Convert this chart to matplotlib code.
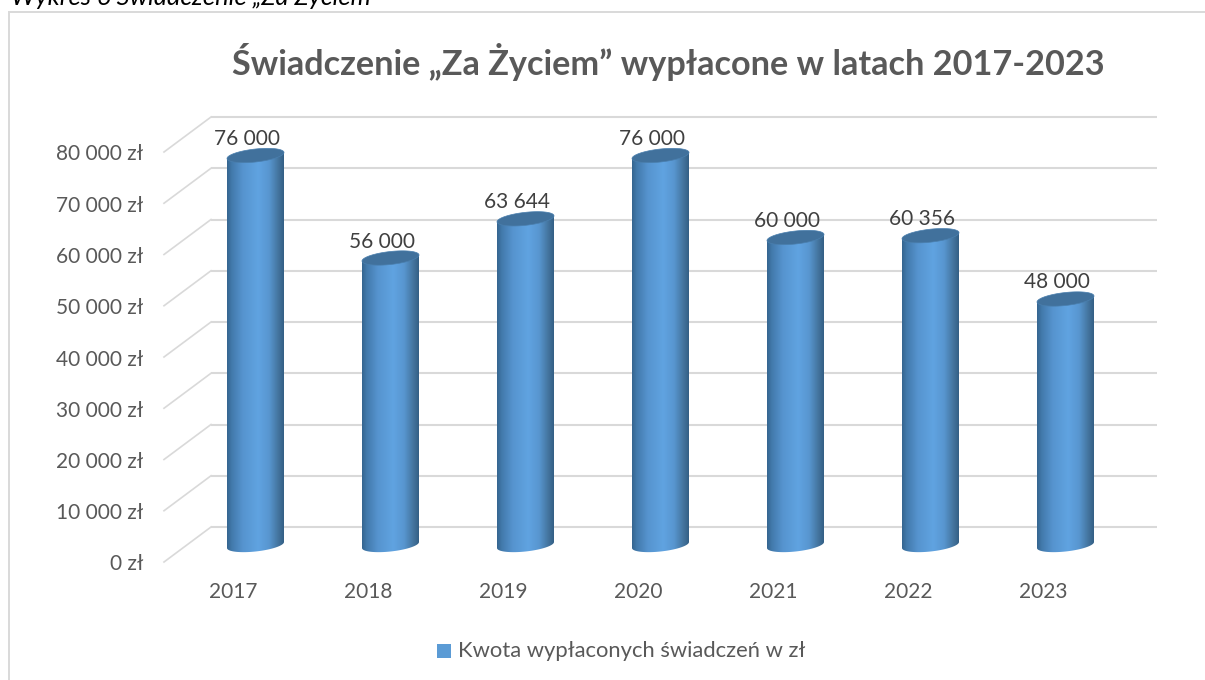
import numpy as np
import matplotlib
matplotlib.use("Agg")
import matplotlib.pyplot as plt
from matplotlib.colors import LinearSegmentedColormap
from matplotlib.patches import Polygon, Rectangle

years = ["2017", "2018", "2019", "2020", "2021", "2022", "2023"]
values = [76000, 56000, 63644, 76000, 60000, 60356, 48000]
value_labels = ["76 000", "56 000", "63 644", "76 000", "60 000", "60 356", "48 000"]
axis_ticks = [0, 10000, 20000, 30000, 40000, 50000, 60000, 70000, 80000]
axis_labels = ["0 zł", "10 000 zł", "20 000 zł", "30 000 zł", "40 000 zł",
               "50 000 zł", "60 000 zł", "70 000 zł", "80 000 zł"]
title = "Świadczenie „Za Życiem” wypłacone w latach 2017-2023"
caption = "Wykres 6 Świadczenie „Za Życiem”"
legend_label = "Kwota wypłaconych świadczeń w zł"

W, H = 1205, 680
plt.rcParams["font.family"] = ["Lato", "DejaVu Sans"]
fig = plt.figure(figsize=(W / 100, H / 100), dpi=100)
ax = fig.add_axes([0, 0, 1, 1])

# pixel scale of the data axes
PX_PER_CAT = 135.0
PX_PER_VAL = 51.25 / 10000
X0 = 255.5
Y0 = 527.0
xlim = ((0 - X0) / PX_PER_CAT, (W - X0) / PX_PER_CAT)
ylim = ((Y0 - H) / PX_PER_VAL, (Y0 - 0) / PX_PER_VAL)
ax.set_xlim(*xlim)
ax.set_ylim(*ylim)
ax.axis("off")
dx = lambda p: p / PX_PER_CAT
dy = lambda p: p / PX_PER_VAL
px = lambda p: dx(p - X0)
py = lambda p: dy(Y0 - p)

# frame: only the top and left edges fall inside the picture
ax.plot([px(1205), px(8.5), px(8.5)], [py(11.5), py(11.5), py(680)], color="#d9d9d9",
        lw=1.4, zorder=1, solid_joinstyle="miter")

# gridlines, back wall and depth slants
grid_c = "#d9d9d9"
right = px(1157)
back = px(211)
front = px(164)
depth = dy(-35)
for t, lab in zip(axis_ticks, axis_labels):
    ax.plot([back, right], [t, t], color=grid_c, lw=1.5, zorder=2, solid_capstyle="butt")
    ax.plot([front, back], [t + depth, t], color=grid_c, lw=1.2, zorder=2)
    ax.text(px(143.5), t + depth - dy(2.5), lab, ha="right", va="center", fontsize=15, color="#595959")

cmap = LinearSegmentedColormap.from_list("cyl", [
    (0.00, "#35658f"), (0.08, "#4279ab"), (0.28, "#5694cf"), (0.55, "#60a3e1"),
    (0.74, "#5896d0"), (0.90, "#44759f"), (1.00, "#335f85")])
grad = np.linspace(0, 1, 256).reshape(1, -1)

RX = 28.5    # cylinder half width, px
RY = 6.5     # ellipse half height, px
TILT = 3.0   # right end rises, px
BASE = -18.0  # cylinder base centre below wall, px
th = np.linspace(0, 2 * np.pi, 121)

for i, (v, lab) in enumerate(zip(values, value_labels)):
    base = dy(BASE)
    top = v + base
    ex = np.cos(th) * RX
    ey = np.sin(th) * RY + np.cos(th) * TILT
    low = th[th >= np.pi]
    bx = i + dx(np.cos(low) * RX)
    by = base + dy(np.sin(low) * RY + np.cos(low) * TILT)
    verts = np.r_[np.c_[bx, by], [[i + dx(RX), top + dy(TILT)]], [[i - dx(RX), top - dy(TILT)]]]
    clip = Polygon(verts, closed=True, transform=ax.transData, fc="none", ec="none")
    ax.add_patch(clip)
    im = ax.imshow(grad, extent=(i - dx(RX), i + dx(RX), base - dy(12), top + dy(12)),
                   cmap=cmap, aspect="auto", zorder=3, interpolation="bilinear")
    im.set_clip_path(clip)
    cap = Polygon(np.c_[i + dx(ex), top + dy(ey)], closed=True, fc="#41719c",
                  ec="#4a7fae", lw=0.5, zorder=4)
    ax.add_patch(cap)
    ax.text(i - dx(8.5), top + dy(16.5), lab, ha="center", va="center", fontsize=15,
            color="#404040", zorder=5)

ax.set_xlim(*xlim)
ax.set_ylim(*ylim)

for i, y in enumerate(years):
    ax.text(i - dx(22.5), py(592.5), y, ha="center", va="center", fontsize=15, color="#595959")

ax.text(px(668.5), py(62), title, ha="center", va="center", fontsize=24.7,
        fontweight="bold", color="#595959")
ax.text(px(11), py(5), caption, ha="left", va="baseline", fontsize=18.4,
        style="italic", color="#000000")

# legend
ax.add_patch(Rectangle((px(437), py(658)), dx(14), dy(14), fc="#5b9bd5", ec="none"))
ax.text(px(457.5), py(651), legend_label, ha="left", va="center", fontsize=15.8, color="#595959")

fig.savefig("out.png", dpi=100)
